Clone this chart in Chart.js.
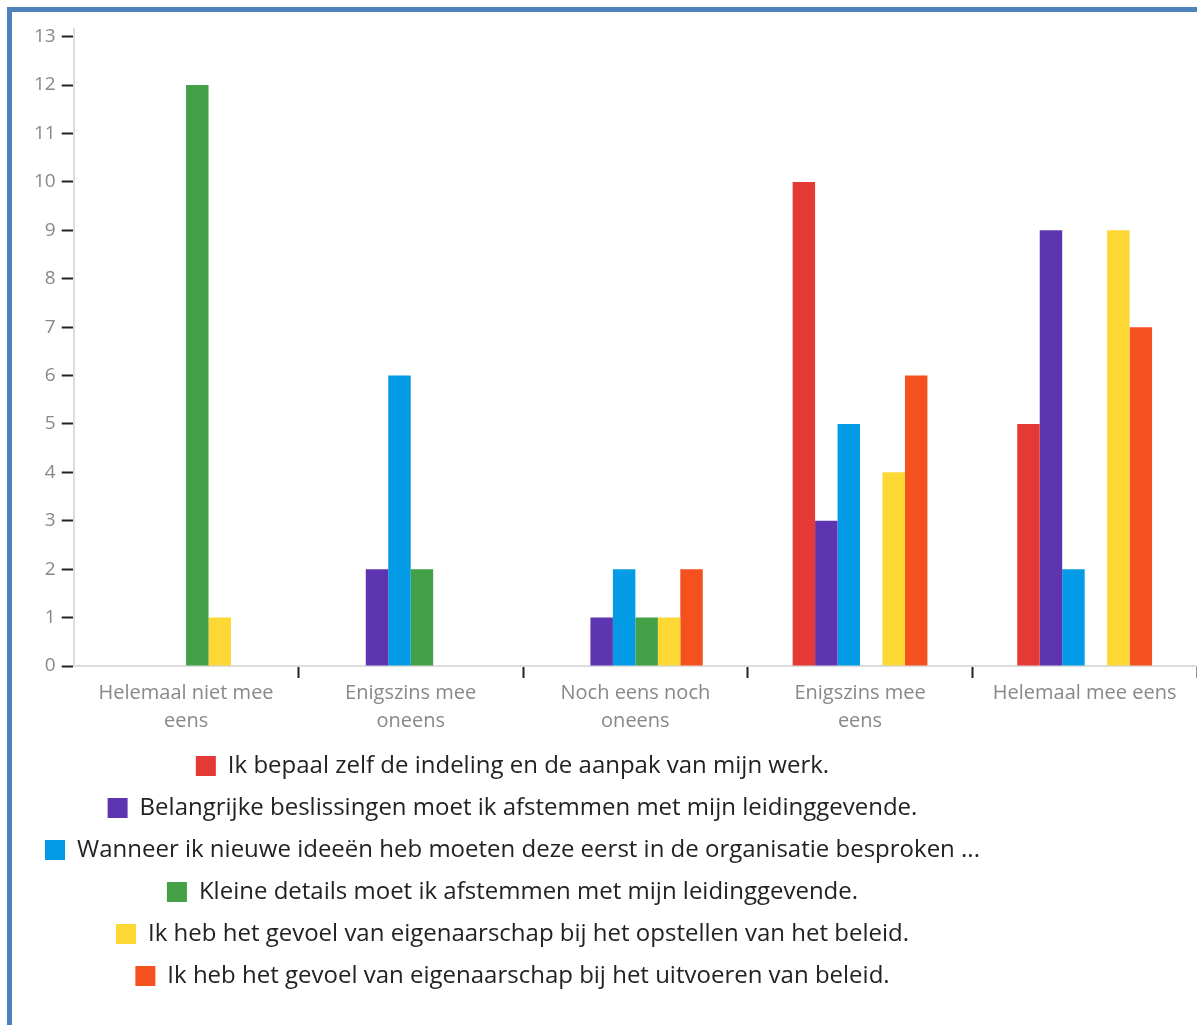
<!DOCTYPE html>
<html>
<head>
<meta charset="utf-8">
<script src="https://cdn.jsdelivr.net/npm/chart.js@4"></script>
<style>
  html, body { margin: 0; padding: 0; background: #fff; overflow: hidden; }
  #frame {
    position: absolute; left: 7px; top: 7px;
    width: 1200px; height: 1030px;
    border: 5px solid #4f81bd;
    box-sizing: content-box;
  }
  #wrap { position: absolute; left: 0; top: 0; width: 1185px; height: 1013px; }
</style>
</head>
<body>
<div id="frame">
  <div id="wrap"><canvas id="myChart"></canvas></div>
</div>
<script>
// answer categories (x axis, wrapped)
var categories = [
  ["Helemaal niet mee", "eens"],
  ["Enigszins mee", "oneens"],
  ["Noch eens noch", "oneens"],
  ["Enigszins mee", "eens"],
  "Helemaal mee eens"
];

// statements
var seriesNames = [
  "Ik bepaal zelf de indeling en de aanpak van mijn werk.",
  "Belangrijke beslissingen moet ik afstemmen met mijn leidinggevende.",
  "Wanneer ik nieuwe ideeën heb moeten deze eerst in de organisatie besproken ...",
  "Kleine details moet ik afstemmen met mijn leidinggevende.",
  "Ik heb het gevoel van eigenaarschap bij het opstellen van het beleid.",
  "Ik heb het gevoel van eigenaarschap bij het uitvoeren van beleid."
];

// counts per statement
var indeling     = [0, 0, 0, 10, 5];
var beslissingen = [0, 2, 1, 3, 9];
var ideeen       = [0, 6, 2, 5, 2];
var details      = [12, 2, 1, 0, 0];
var opstellen    = [1, 0, 1, 4, 9];
var uitvoeren    = [0, 0, 2, 6, 7];

var seriesValues = [indeling, beslissingen, ideeen, details, opstellen, uitvoeren];
var seriesColors = ["#e53935", "#5e35b1", "#039be5", "#43a047", "#fdd835", "#f4511e"];

var yTicks = [0, 1, 2, 3, 4, 5, 6, 7, 8, 9, 10, 11, 12, 13];

var datasets = [];
for (var i = 0; i < seriesNames.length; i++) {
  datasets.push({
    label: seriesNames[i],
    data: seriesValues[i],
    backgroundColor: seriesColors[i],
    borderColor: seriesColors[i],
    borderWidth: 0,
    categoryPercentage: 0.6,
    barPercentage: 1.0
  });
}

// legend block sits left of the canvas centre
var legendShift = {
  id: 'legendShift',
  afterLayout: function(chart) {
    chart.legend.right -= 200;
  }
};

var ctx = document.getElementById("myChart");

var myChart = new Chart(ctx, {
  type: 'bar',
  data: {
    labels: categories,
    datasets: datasets
  },
  plugins: [legendShift],
  options: {
    responsive: true,
    maintainAspectRatio: false,
    animation: false,
    layout: { padding: { left: 16, right: 0, top: 4, bottom: 27 } },
    plugins: {
      tooltip: { enabled: false },
      legend: {
        position: 'bottom',
        align: 'center',
        labels: {
          font: { family: "Open Sans", size: 24 },
          color: '#222',
          boxWidth: 20,
          boxHeight: 20,
          padding: 18
        }
      }
    },
    scales: {
      x: {
        offset: true,
        grid: {
          drawOnChartArea: false,
          tickLength: 12,
          tickWidth: 2,
          color: function(c) {
            return (c.index === 0 || c.index === categories.length) ? 'rgba(0,0,0,0)' : '#222';
          }
        },
        border: { color: '#ddd', width: 2 },
        ticks: {
          font: { family: "Open Sans", size: 20, lineHeight: 1.4 },
          color: '#888',
          padding: 1,
          maxRotation: 0,
          autoSkip: false
        }
      },
      y: {
        min: 0,
        max: 13.15,
        afterBuildTicks: function(axis) {
          axis.ticks = yTicks.map(function(v) { return { value: v }; });
        },
        grid: {
          drawOnChartArea: false,
          tickLength: 12,
          tickWidth: 2,
          color: '#222'
        },
        border: { color: '#ddd', width: 2 },
        ticks: {
          font: { family: "Open Sans", size: 19 },
          color: '#888',
          padding: 6
        }
      }
    }
  }
});
</script>
</body>
</html>
